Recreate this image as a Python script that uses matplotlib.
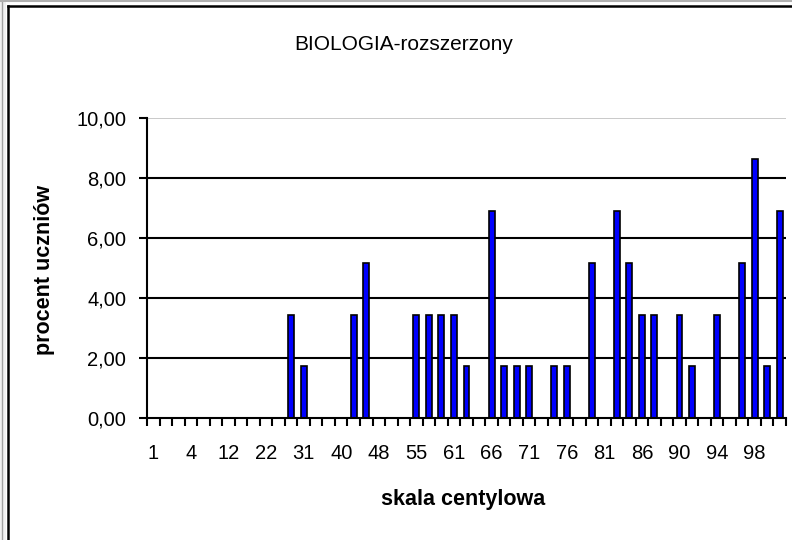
import numpy as np
import matplotlib
matplotlib.use("Agg")
import matplotlib.pyplot as plt
from matplotlib.lines import Line2D
from matplotlib.patches import Rectangle

plt.rcParams["font.family"] = ["Liberation Sans", "DejaVu Sans"]

# -------------------------
# Data (percent of students per centile category, 51 categories)
# -------------------------
values = [
    0, 0, 0, 0, 0, 0, 0, 0, 0, 0,
    0, 3.45, 1.72, 0, 0, 0, 3.45, 5.17, 0, 0,
    0, 3.45, 3.45, 3.45, 3.45, 1.72, 0, 6.90, 1.72, 1.72,
    1.72, 0, 1.72, 1.72, 0, 5.17, 0, 6.90, 5.17, 3.45,
    3.45, 0, 3.45, 1.72, 0, 3.45, 0, 5.17, 8.62, 1.72,
    6.90,
]
tick_labels = ["1", "4", "12", "22", "31", "40", "48", "55", "61",
               "66", "71", "76", "81", "86", "90", "94", "98"]
label_step = 3

title = "BIOLOGIA-rozszerzony"
xlabel = "skala centylowa"
ylabel = "procent uczniów"

# -------------------------
# Figure
# -------------------------
fig = plt.figure(figsize=(7.92, 5.40), dpi=100)
ax = fig.add_axes([147 / 792, 1 - 418 / 540, (786 - 147) / 792, 300 / 540])

n = len(values)
x = np.arange(n)
ax.bar(x, values, width=0.47, color="#0000FF", edgecolor="black", linewidth=1.2, zorder=3)

ax.set_xlim(-0.5, n - 0.5)
ax.set_ylim(0, 10)

# horizontal gridlines
for yv in [2, 4, 6, 8]:
    ax.axhline(yv, color="black", linewidth=1.5, zorder=1)
ax.axhline(10, color="#c0c0c0", linewidth=1.2, zorder=1)

for s in ["top", "right"]:
    ax.spines[s].set_visible(False)
ax.spines["left"].set_linewidth(1.5)
ax.spines["bottom"].set_linewidth(1.5)
ax.spines["left"].set_zorder(4)
ax.spines["bottom"].set_zorder(4)

ax.set_yticks(np.arange(0, 10.01, 2))
ax.set_yticklabels([f"{v:.2f}".replace(".", ",") for v in np.arange(0, 10.01, 2)])
ax.tick_params(axis="y", direction="out", length=6, width=1.5, pad=9, labelsize=14.5)

# x: tick marks at category boundaries, labels every third category
ax.set_xticks(np.arange(n + 1) - 0.5)
ax.set_xticklabels([])
ax.set_xticks(x[::label_step], minor=True)
ax.set_xticklabels(tick_labels, minor=True)
ax.tick_params(axis="x", which="major", direction="out", length=6, width=1.5)
ax.tick_params(axis="x", which="minor", length=0, pad=19, labelsize=14.5)

fig.text(404 / 792, 1 - 45 / 540, title, ha="center", va="center", fontsize=15)
fig.text(463 / 792, 1 - 500 / 540, xlabel, ha="center", va="center",
         fontsize=15.5, fontweight="bold")
fig.text(45 / 792, 1 - 270 / 540, ylabel, ha="center", va="center",
         fontsize=15.5, fontweight="bold", rotation=90)

# outer chart frame (top and left edges visible) and spreadsheet strip
fig.add_artist(Rectangle((0, 0), 6 / 792, 1, transform=fig.transFigure,
                         facecolor="#f0f0f0", edgecolor="none"))
fig.add_artist(Line2D([2 / 792, 2 / 792], [0, 1], transform=fig.transFigure,
                      color="#a0a0a0", linewidth=1))
fig.add_artist(Line2D([0, 1], [1 - 1 / 540, 1 - 1 / 540], transform=fig.transFigure,
                      color="#b0b0b0", linewidth=1.5))
fig.add_artist(Line2D([8 / 792, 1], [1 - 6 / 540, 1 - 6 / 540], transform=fig.transFigure,
                      color="black", linewidth=1.8))
fig.add_artist(Line2D([8 / 792, 8 / 792], [0, 1 - 6 / 540], transform=fig.transFigure,
                      color="black", linewidth=1.8))

fig.savefig("out.png", dpi=100)
